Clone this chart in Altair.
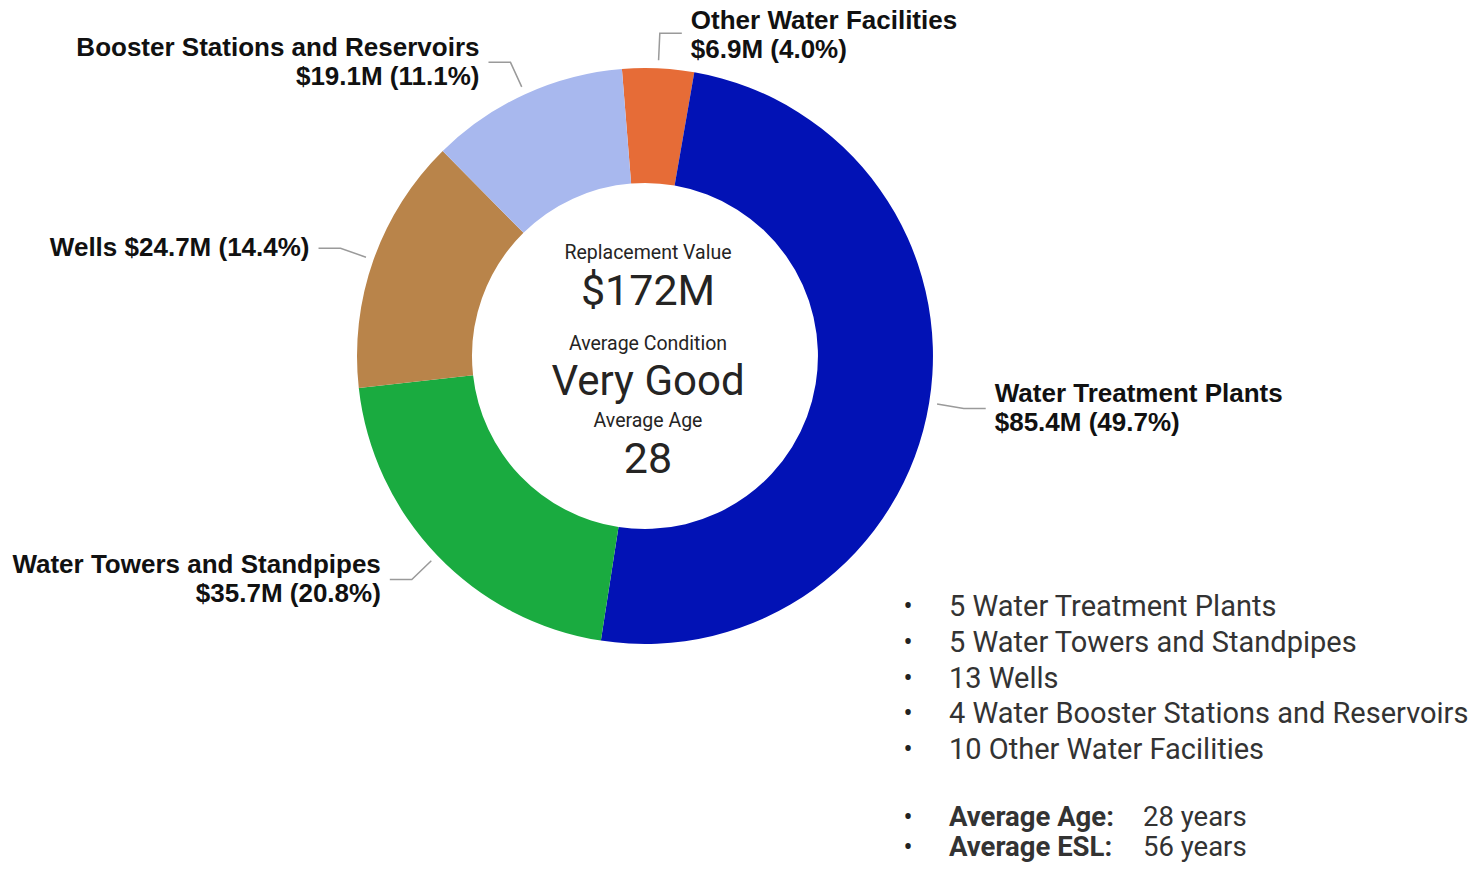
import math
import numpy as np
import pandas as pd
import altair as alt

# ---------------- data ----------------
names = ["Other Water Facilities", "Water Treatment Plants",
         "Water Towers and Standpipes", "Wells",
         "Booster Stations and Reservoirs"]
values_m = [6.9, 85.4, 35.7, 24.7, 19.1]
pcts = [4.0, 49.7, 20.8, 14.4, 11.1]
two_line = [True, True, True, False, True]
colors = ["#E66C37", "#0212B5", "#1AAB40", "#B9844A", "#A8B8EE"]

center_labels = ["Replacement Value", "$172M", "Average Condition",
                 "Very Good", "Average Age", "28"]

bullet_items = ["5 Water Treatment Plants", "5 Water Towers and Standpipes",
                "13 Wells", "4 Water Booster Stations and Reservoirs",
                "10 Other Water Facilities"]
stat_bold = ["Average Age:", "Average ESL:"]
stat_text = ["28 years", "56 years"]

# ---------------- layout ----------------
W, H = 1463, 855
CX, CY = 645, 356
R_OUT, R_IN = 288, 173
START = math.radians(-4.6)
LH = 29
LFS = 26
xs = alt.Scale(domain=[8, 8 + W])
ys = alt.Scale(domain=[8, 8 + H], reverse=True)

total = sum(values_m)
cum = np.cumsum(values_m)
arc_df = pd.DataFrame({"name": names, "value": values_m,
                       "ord": list(range(len(names))),
                       "cx": CX, "cy": CY})

line_rows, lab_rows = [], []
for i, n in enumerate(names):
    mid = START + 2 * math.pi * (cum[i] - values_m[i] / 2) / total
    s, c = math.sin(mid), math.cos(mid)
    side = 1 if s > 0 else -1
    p0 = (CX + 296 * s, CY - 296 * c)
    p1 = (CX + 323 * s, CY - 323 * c)
    p2 = (p1[0] + side * 22, p1[1])
    for k, p in enumerate([p0, p1, p2]):
        line_rows.append({"name": n, "k": k, "x": p[0], "y": p[1]})
    val = f"${values_m[i]:.1f}M ({pcts[i]:.1f}%)"
    lab = f"{n}\n{val}" if two_line[i] else f"{n} {val}"
    nl = 2 if two_line[i] else 1
    ytop = max(p2[1] - (nl - 1) * LH / 2, 8 + LFS / 2)
    lab_rows.append({"label": lab, "x": p2[0] + side * 9,
                     "y": ytop, "side": side})
line_df = pd.DataFrame(line_rows)
lab_df = pd.DataFrame(lab_rows)

center_y = [253, 292, 344, 382, 421, 460]
center_size = [19.5, 43, 19.5, 42, 19.5, 43]
center_df = pd.DataFrame({"t": center_labels, "x": 648, "y": center_y,
                          "s": center_size})

bul_df = pd.DataFrame({"t": bullet_items,
                       "y": [607 + i * 35.8 for i in range(len(bullet_items))]})
stat_df = pd.DataFrame({"b": stat_bold, "t": stat_text, "y": [818, 848]})

X = lambda f: alt.X(f, scale=xs, axis=None)
Y = lambda f: alt.Y(f, scale=ys, axis=None)

donut = alt.Chart(arc_df).mark_arc(outerRadius=R_OUT, innerRadius=R_IN).encode(
    x=X("cx:Q"), y=Y("cy:Q"),
    theta=alt.Theta("value:Q", stack=True,
                    scale=alt.Scale(range=[START, START + 2 * math.pi])),
    order=alt.Order("ord:Q"),
    color=alt.Color("name:N", scale=alt.Scale(domain=names, range=colors),
                    legend=None),
)

leaders = alt.Chart(line_df).mark_line(color="#9a9a9a", strokeWidth=1.5).encode(
    x=X("x:Q"), y=Y("y:Q"), detail="name:N", order="k:Q")

lab_common = dict(font="Liberation Sans", fontWeight="bold", fontSize=LFS,
                  lineBreak="\n", lineHeight=LH, baseline="middle",
                  color="#111111")
lab_right = alt.Chart(lab_df).transform_filter("datum.side > 0").mark_text(
    align="left", **lab_common).encode(x=X("x:Q"), y=Y("y:Q"), text="label:N")
lab_left = alt.Chart(lab_df).transform_filter("datum.side < 0").mark_text(
    align="right", **lab_common).encode(x=X("x:Q"), y=Y("y:Q"), text="label:N")

center = alt.Chart(center_df).mark_text(
    font="Roboto", baseline="middle", align="center", color="#252423").encode(
    x=X("x:Q"), y=Y("y:Q"), text="t:N",
    size=alt.Size("s:Q", scale=None, legend=None))

bfont = dict(font="Roboto", fontSize=29, baseline="middle", align="left",
             color="#333333")
sfont = dict(font="Roboto", fontSize=27.5, baseline="middle", align="left",
             color="#333333")
dot_kw = dict(text="•", font="Roboto", fontSize=27, baseline="middle",
              align="center", color="#222222")

dots1 = alt.Chart(bul_df).mark_text(**dot_kw).encode(
    x=alt.X("xx:Q", scale=xs, axis=None), y=Y("y:Q")).transform_calculate(xx="908")
dots2 = alt.Chart(stat_df).mark_text(**dot_kw).encode(
    x=alt.X("xx:Q", scale=xs, axis=None), y=Y("y:Q")).transform_calculate(xx="908")
bullets = alt.Chart(bul_df).mark_text(**bfont).encode(
    x=alt.X("xx:Q", scale=xs, axis=None), y=Y("y:Q"), text="t:N").transform_calculate(xx="949")
stat_b = alt.Chart(stat_df).mark_text(fontWeight="bold", **sfont).encode(
    x=alt.X("xx:Q", scale=xs, axis=None), y=Y("y:Q"), text="b:N").transform_calculate(xx="949")
stat_n = alt.Chart(stat_df).mark_text(**sfont).encode(
    x=alt.X("xx:Q", scale=xs, axis=None), y=Y("y:Q"), text="t:N").transform_calculate(xx="1143")

chart = alt.layer(donut, leaders, lab_right, lab_left, center,
                  dots1, dots2, bullets, stat_b, stat_n).properties(
    width=W, height=H, padding=0, background="white",
    autosize=alt.AutoSizeParams(type="none"),
).configure_view(strokeWidth=0, stroke=None)

chart.save("out.html", embed_options={"renderer": "svg", "actions": False})
